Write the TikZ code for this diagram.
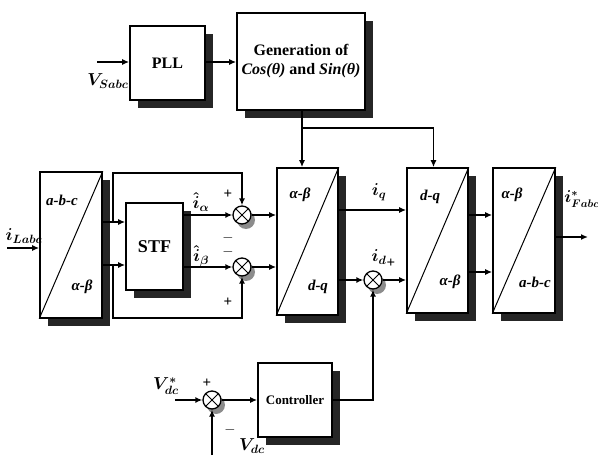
\documentclass[tikz,border=0pt]{standalone}
\usepackage{fontspec}
\setmainfont{Liberation Serif}
\usetikzlibrary{arrows.meta,shadows}

\tikzset{
  blk/.style={
    draw, line width=1.6pt, fill=white, align=center,
    font=\fontsize{16}{19}\selectfont\bfseries,
    drop shadow={shadow xshift=8pt, shadow yshift=-8pt, fill=black!85, opacity=1}
  },
  sumj/.style={
    draw, circle, line width=1.3pt, fill=white, minimum size=18pt, inner sep=0pt,
    drop shadow={shadow xshift=4pt, shadow yshift=-5pt, fill=black!45, opacity=1}
  },
  sig/.style={line width=1.5pt, -{Latex[length=7pt,width=6pt]}},
  wire/.style={line width=1.5pt},
  diag/.style={line width=1pt},
  frame/.style={font=\fontsize{15}{18}\selectfont\bfseries\itshape, inner sep=1pt},
  siglbl/.style={font=\fontsize{18}{21}\selectfont\boldmath, inner sep=1pt},
  sgn/.style={font=\fontsize{15}{18}\selectfont\bfseries, inner sep=0pt}
}

\begin{document}
\begin{tikzpicture}[x=1pt,y=-1pt]
  \useasboundingbox (0,0) rectangle (598,463);

  % blocks
  \node[blk, minimum width=75pt, minimum height=74pt] (pll) at (167.5,63) {PLL};
  \node[blk, minimum width=128pt, minimum height=97pt] (gen) at (301,61.5)
    {Generation of\\\textit{Cos(θ)} and \textit{Sin(θ)}};
  \node[blk, minimum width=62pt, minimum height=146pt] (abc) at (71,245) {};
  \node[blk, minimum width=57pt, minimum height=87pt, font=\fontsize{18}{20}\selectfont\bfseries] (stf) at (154.5,246.5) {STF};
  \node[blk, minimum width=61pt, minimum height=147pt] (abdq) at (307.5,241.5) {};
  \node[blk, minimum width=61pt, minimum height=145pt] (dqab) at (437.5,240.5) {};
  \node[blk, minimum width=62pt, minimum height=145pt] (ababc) at (524,240.5) {};
  \node[blk, minimum width=74pt, minimum height=74pt, font=\fontsize{13}{15}\selectfont\bfseries] (ctrl) at (295,400) {Controller};

  \foreach \b in {abc,abdq,dqab,ababc}
    \draw[diag] (\b.south west) -- (\b.north east);

  \node[frame] (abc1) at (62,200) {a-b-c};
  \node[frame] (abc2) at (82,287) {α-β};
  \node[frame] (abdq1) at (300,195) {α-β};
  \node[frame] (abdq2) at (318,287) {d-q};
  \node[frame] (dqab1) at (430,197) {d-q};
  \node[frame] (dqab2) at (450,282) {α-β};
  \node[frame] (ababc1) at (512,195) {α-β};
  \node[frame] (ababc2) at (535,282) {a-b-c};

  % summing junctions
  \node[sumj] (s1) at (242,215) {};
  \node[sumj] (s2) at (242,267) {};
  \node[sumj] (s3) at (373,280) {};
  \node[sumj] (s4) at (212,400) {};
  \foreach \s in {s1,s2,s3,s4}
    \draw[diag] (\s.north west) -- (\s.south east) (\s.north east) -- (\s.south west);

  % PLL path
  \coordinate (vin) at (97,62);
  \draw[sig] (vin) -- (vin -| pll.west);
  \draw[sig] (pll.east |- vin) -- (gen.west |- vin);
  \coordinate (tap) at (302,128);
  \draw[wire] (gen.south -| tap) -- (tap);
  \draw[sig] (tap) -- (tap |- abdq.north);
  \draw[sig] (tap) -| ([xshift=-4pt]dqab.north);

  % current path
  \coordinate (iin) at (7,248);
  \draw[sig] (iin) -- (iin -| abc.west);
  \coordinate (ya) at (0,222);
  \coordinate (yb) at (0,265);
  \draw[sig] (abc.east |- ya) -- (stf.west |- ya);
  \draw[sig] (abc.east |- yb) -- (stf.west |- yb);
  \coordinate (ta) at (113,173);
  \coordinate (tb) at (113,318);
  \draw[sig] (ta |- ya) -- (ta) -| (s1.north);
  \draw[sig] (tb |- yb) -- (tb) -| (s2.south);
  \draw[sig] (stf.east |- s1) -- (s1.west);
  \draw[sig] (stf.east |- s2) -- (s2.west);
  \draw[sig] (s1.east) -- (abdq.west |- s1);
  \draw[sig] (s2.east) -- (abdq.west |- s2);
  \coordinate (yq) at (0,210);
  \draw[sig] (abdq.east |- yq) -- (dqab.west |- yq);
  \draw[sig] (abdq.east |- s3) -- (s3.west);
  \draw[sig] (s3.east) -- (dqab.west |- s3);
  \coordinate (y1) at (0,215);
  \coordinate (y2) at (0,272);
  \draw[sig] (dqab.east |- y1) -- (ababc.west |- y1);
  \draw[sig] (dqab.east |- y2) -- (ababc.west |- y2);
  \coordinate (iout) at (588,237);
  \draw[sig] (ababc.east |- iout) -- (iout);

  % dc loop
  \coordinate (vref) at (175,400);
  \coordinate (vdc) at (212,455);
  \draw[sig] (vref) -- (s4.west);
  \draw[sig] (vdc) -- (s4.south);
  \draw[sig] (s4.east) -- (ctrl.west);
  \draw[sig] (ctrl.east) -| (s3.south);

  % signal labels
  \node[siglbl] (lvs) at (108,81) {$V_{Sabc}$};
  \node[siglbl] (lil) at (24,236) {$i_{Labc}$};
  \node[siglbl] (lia) at (201,202) {$\hat{i}_{\alpha}$};
  \node[siglbl] (lib) at (201,256) {$\hat{i}_{\beta}$};
  \node[siglbl] (liq) at (379,192) {$i_{q}$};
  \node[siglbl] (lid) at (379,257) {$i_{d}$};
  \node[siglbl, font=\fontsize{16}{19}\selectfont\boldmath] (lio) at (582,199) {$i^{*}_{Fabc}$};
  \node[siglbl] (lvr) at (166,386) {$V^{*}_{dc}$};
  \node[siglbl] (lvd) at (252,446) {$V_{dc}$};

  % signs
  \node[sgn] (p1) at (228,194) {+};
  \node[sgn] (m1) at (228,238) {$-$};
  \node[sgn] (m2) at (228,252) {$-$};
  \node[sgn] (p2) at (228,302) {+};
  \node[sgn] (p3) at (391,263) {+};
  \node[sgn] (p4) at (207,383) {+};
  \node[sgn] (m4) at (230,430) {$-$};
\end{tikzpicture}
\end{document}
